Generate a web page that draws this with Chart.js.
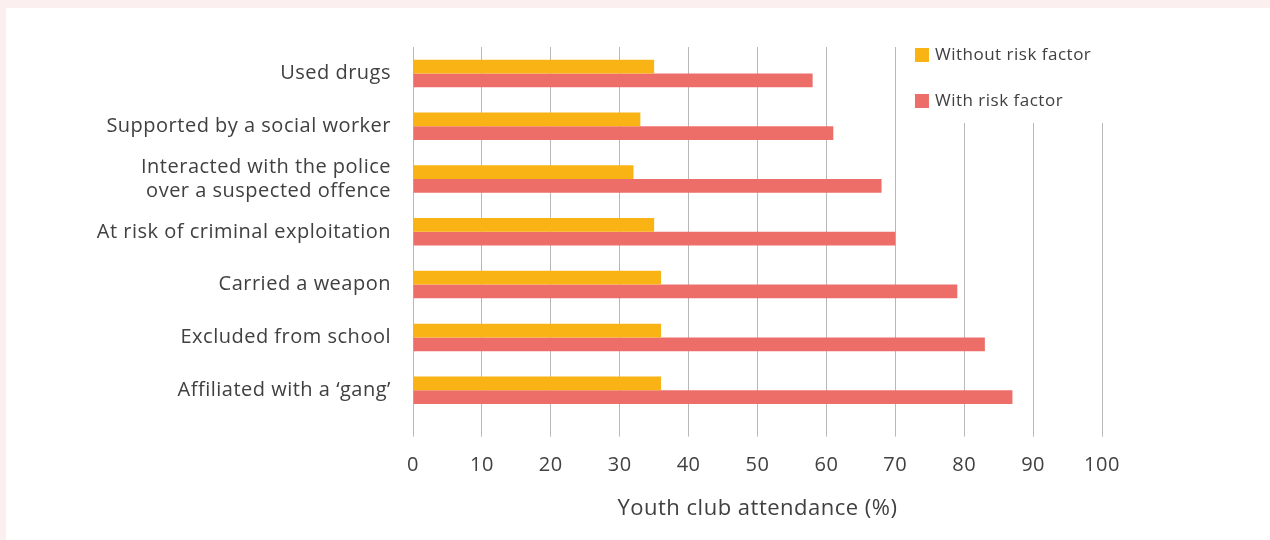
<!DOCTYPE html>
<html>
<head>
<meta charset="utf-8">
<script src="https://cdn.jsdelivr.net/npm/chart.js@4/dist/chart.umd.min.js"></script>
<style>
  html, body { margin: 0; padding: 0; background: #fcefef; width: 1270px; height: 540px; overflow: hidden; }
  #wrap { position: absolute; left: 6px; top: 8px; width: 1264px; height: 532px; background: #ffffff; }
  canvas { display: block; }
</style>
</head>
<body>
<div id="wrap"><canvas id="c" width="1264" height="532"></canvas></div>
<script>
const categories = [
  'Used drugs',
  'Supported by a social worker',
  ['Interacted with the police', 'over a suspected offence'],
  'At risk of criminal exploitation',
  'Carried a weapon',
  'Excluded from school',
  'Affiliated with a \u2018gang\u2019'
];
const seriesNames = ['Without risk factor', 'With risk factor'];
const withoutRisk = [35, 33, 32, 35, 36, 36, 36];
const withRisk = [58, 61, 68, 70, 79, 83, 87];
const xTicks = [0, 10, 20, 30, 40, 50, 60, 70, 80, 90, 100];
const axisTitle = 'Youth club attendance (%)';

const colors = ['#f9b314', '#ed6e68'];
const textColor = '#404040';
const fontFamily = '"Open Sans", "Noto Sans", sans-serif';
const spacing = '0.5px';

function applySpacing(chart) { if ('letterSpacing' in chart.ctx) chart.ctx.letterSpacing = spacing; }
const spacingPlugin = {
  id: 'letterSpacing',
  beforeInit: applySpacing,
  beforeUpdate: applySpacing,
  beforeLayout: applySpacing,
  beforeDraw: applySpacing
};

const legendPlugin = {
  id: 'insideLegend',
  afterDraw(chart) {
    const ctx = chart.ctx;
    const area = chart.chartArea;
    const xs = chart.scales.x;
    const left = xs.getPixelForValue(71);
    ctx.save();
    ctx.fillStyle = '#ffffff';
    ctx.fillRect(left, area.top - 2, xs.getPixelForValue(101) - left, 78);
    ctx.font = '17px ' + fontFamily;
    ctx.textBaseline = 'middle';
    ctx.textAlign = 'left';
    chart.data.datasets.forEach((ds, i) => {
      const y = area.top + 8 + i * 46;
      const bx = xs.getPixelForValue(73) - 1;
      ctx.fillStyle = ds.backgroundColor;
      ctx.fillRect(bx, y - 7, 14, 14);
      ctx.fillStyle = textColor;
      ctx.fillText(ds.label, bx + 20, y);
    });
    ctx.restore();
  }
};

new Chart(document.getElementById('c'), {
  type: 'bar',
  data: {
    labels: categories,
    datasets: [
      { label: seriesNames[0], data: withoutRisk, backgroundColor: colors[0] },
      { label: seriesNames[1], data: withRisk, backgroundColor: colors[1] }
    ]
  },
  options: {
    indexAxis: 'y',
    responsive: false,
    animation: false,
    devicePixelRatio: 1,
    layout: { padding: { top: 39, right: 168, bottom: 16, left: 0 } },
    datasets: { bar: { categoryPercentage: 0.52, barPercentage: 1.0 } },
    plugins: {
      legend: { display: false },
      tooltip: { enabled: false }
    },
    scales: {
      x: {
        min: 0, max: 100,
        afterBuildTicks(scale) { scale.ticks = xTicks.map(v => ({ value: v })); },
        grid: { color: '#b8b8b8', lineWidth: 1, drawTicks: true, tickLength: 20 },
        border: { display: false },
        ticks: { color: textColor, font: { family: fontFamily, size: 20 }, padding: 17, maxRotation: 0 },
        title: { display: true, text: axisTitle, color: textColor, font: { family: fontFamily, size: 22 }, padding: { top: 1, bottom: 2 } }
      },
      y: {
        grid: { display: false, drawTicks: false },
        border: { display: false },
        afterFit(scale) { scale.width = 407; },
        ticks: { color: textColor, font: { family: fontFamily, size: 20, lineHeight: 1.2 }, padding: 22, crossAlign: 'near' }
      }
    }
  },
  plugins: [spacingPlugin, legendPlugin]
});
</script>
</body>
</html>
